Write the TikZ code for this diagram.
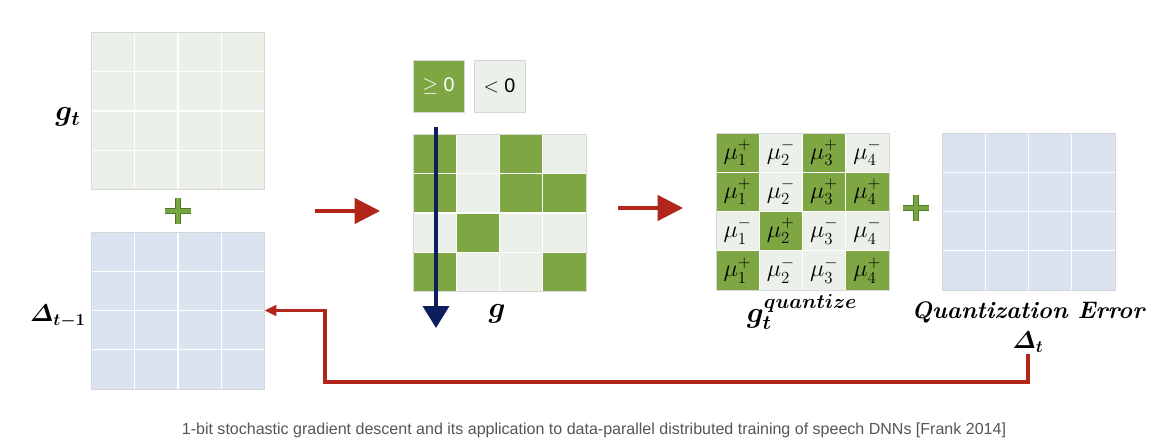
\documentclass[tikz,border=0pt]{standalone}
\usepackage{fontspec}
\usepackage{amsmath}
\usepackage{bm}
\setsansfont{Liberation Sans}
\usetikzlibrary{arrows.meta, calc, positioning}

\definecolor{cellgreen}{HTML}{7EA743}
\definecolor{celllight}{HTML}{EBF0E8}
\definecolor{cellblue}{HTML}{DCE3F0}
\definecolor{gridgray}{HTML}{D6D6D6}
\definecolor{arrred}{HTML}{B3241A}
\definecolor{arrnavy}{HTML}{0C1F5C}
\definecolor{plusgreen}{HTML}{78A640}
\definecolor{plusdark}{HTML}{4F7A2B}
\definecolor{capgray}{HTML}{555555}

%cell size of the 4x4 grids
\def\cw{43.25}
\def\ch{39.25}

% white inner lines and grey frame of a grid node
\newcommand{\gridlines}[1]{%
  \foreach \k in {1,2,3} {
    \draw[white, line width=1pt] ($(#1.north west)+(\k*\cw,0)$) -- ($(#1.south west)+(\k*\cw,0)$);
    \draw[white, line width=1pt] ($(#1.north west)+(0,\k*\ch)$) -- ($(#1.north east)+(0,\k*\ch)$);
  }
  \draw[gridgray, line width=0.6pt] (#1.north west) rectangle (#1.south east);
}

\begin{document}
\begin{tikzpicture}[
  x=0.025cm, y=-0.025cm,
  matsty/.style={minimum width=4.325cm, minimum height=3.925cm, inner sep=0pt, outer sep=0pt},
  signsty/.style={draw=gridgray, line width=0.6pt, minimum width=1.275cm, minimum height=1.3cm, inner sep=0pt, font=\sffamily\fontsize{14}{16}\selectfont},
  mulab/.style={inner sep=0pt, font=\fontsize{17}{20}\selectfont},
  lab/.style={inner sep=1pt, font=\fontsize{18}{22}\selectfont},
  biglab/.style={inner sep=1pt, font=\fontsize{22}{26}\selectfont},
  redarr/.style={draw=arrred, line width=2.3pt, -{Triangle[length=18pt, width=18pt]}},
  navyarr/.style={draw=arrnavy, line width=2.5pt, -{Triangle[length=15.6pt, width=18.5pt]}},
  fbarr/.style={draw=arrred, line width=2.2pt, -{Triangle[length=8.5pt, width=7.5pt]}},
  plussty/.style={draw=plusdark, line width=0.5pt, double=plusgreen, double distance=2.8pt}
]
\useasboundingbox (0,0) rectangle (1160,440);

% left column: g_t + Delta_{t-1}
\node[matsty, fill=celllight] (GT) at (178,111) {};
\gridlines{GT}
\node[matsty, fill=cellblue] (D1) at (178,310.5) {};
\gridlines{D1}
\draw[plussty] (178,198) -- (178,224) (165,211) -- (191,211);

\node[biglab] (LGT) at (68,117) {$\bm{g_t}$};
\node[lab] (LD1) at (58,316) {$\bm{\varDelta_{t-1}}$};

% sign legend
\node[signsty, fill=cellgreen, text=white] (GE) at (438.5,86) {$\geq$ 0};
\node[signsty, fill=celllight] (LT) at (499.5,86) {$<$ 0};

% sign matrix g
\coordinate (A1s) at (315,211);
\coordinate (A1e) at (380,211);
\draw[redarr] (A1s) -- (A1e);

\node[matsty, fill=celllight] (G) at (499.5,213) {};
\foreach \c/\r in {1/1,3/1,1/2,3/2,4/2,2/3,1/4,4/4}
  \fill[cellgreen] ($(G.north west)+({(\c-1)*\cw},{(\r-1)*\ch})$) rectangle +(\cw,\ch);
\gridlines{G}

\coordinate (NVs) at (436,127);
\coordinate (NVe) at (436,328);
\draw[navyarr] (NVs) -- (NVe);
\node[biglab] (LG) at (497,314) {$\bm{g}$};

% quantized matrix
\coordinate (A2s) at (618,208);
\coordinate (A2e) at (683,208);
\draw[redarr] (A2s) -- (A2e);

\node[matsty, fill=celllight] (Q) at (802.5,211.5) {};
\foreach \c/\r in {1/1,3/1,1/2,3/2,4/2,2/3,1/4,4/4} {
  \fill[cellgreen] ($(Q.north west)+({(\c-1)*\cw},{(\r-1)*\ch})$) rectangle +(\cw,\ch);
  \node[mulab] (q\c\r) at ($(Q.north west)+({(\c-0.5)*\cw},{(\r-0.5)*\ch})$) {$\mu_{\c}^{+}$};
}
\foreach \c/\r in {2/1,4/1,2/2,1/3,3/3,4/3,2/4,3/4}
  \node[mulab] (q\c\r) at ($(Q.north west)+({(\c-0.5)*\cw},{(\r-0.5)*\ch})$) {$\mu_{\c}^{-}$};
\gridlines{Q}
\node[lab, font=\fontsize{21}{25}\selectfont] (LQ) at (802,312) {$\bm{g_t^{quantize}}$};

% quantization error
\draw[plussty] (916,195) -- (916,221) (903,208) -- (929,208);
\node[matsty, fill=cellblue] (QE) at (1028.5,211.5) {};
\gridlines{QE}
\node[lab, font=\bfseries\itshape\fontsize{17}{20}\selectfont] (LQE) at (1028,312) {Quantization Error};
\node[lab] (DT) at (1028,342) {$\bm{\varDelta_t}$};

% feedback of the error
\coordinate (FB) at (325,382);
\draw[fbarr] (DT.south) |- (FB) |- (D1.east);

\node[font=\sffamily\fontsize{11.4}{13}\selectfont, text=capgray] (CAP) at (594,430)
  {1-bit stochastic gradient descent and its application to data-parallel distributed training of speech DNNs [Frank 2014]};

\end{tikzpicture}
\end{document}
